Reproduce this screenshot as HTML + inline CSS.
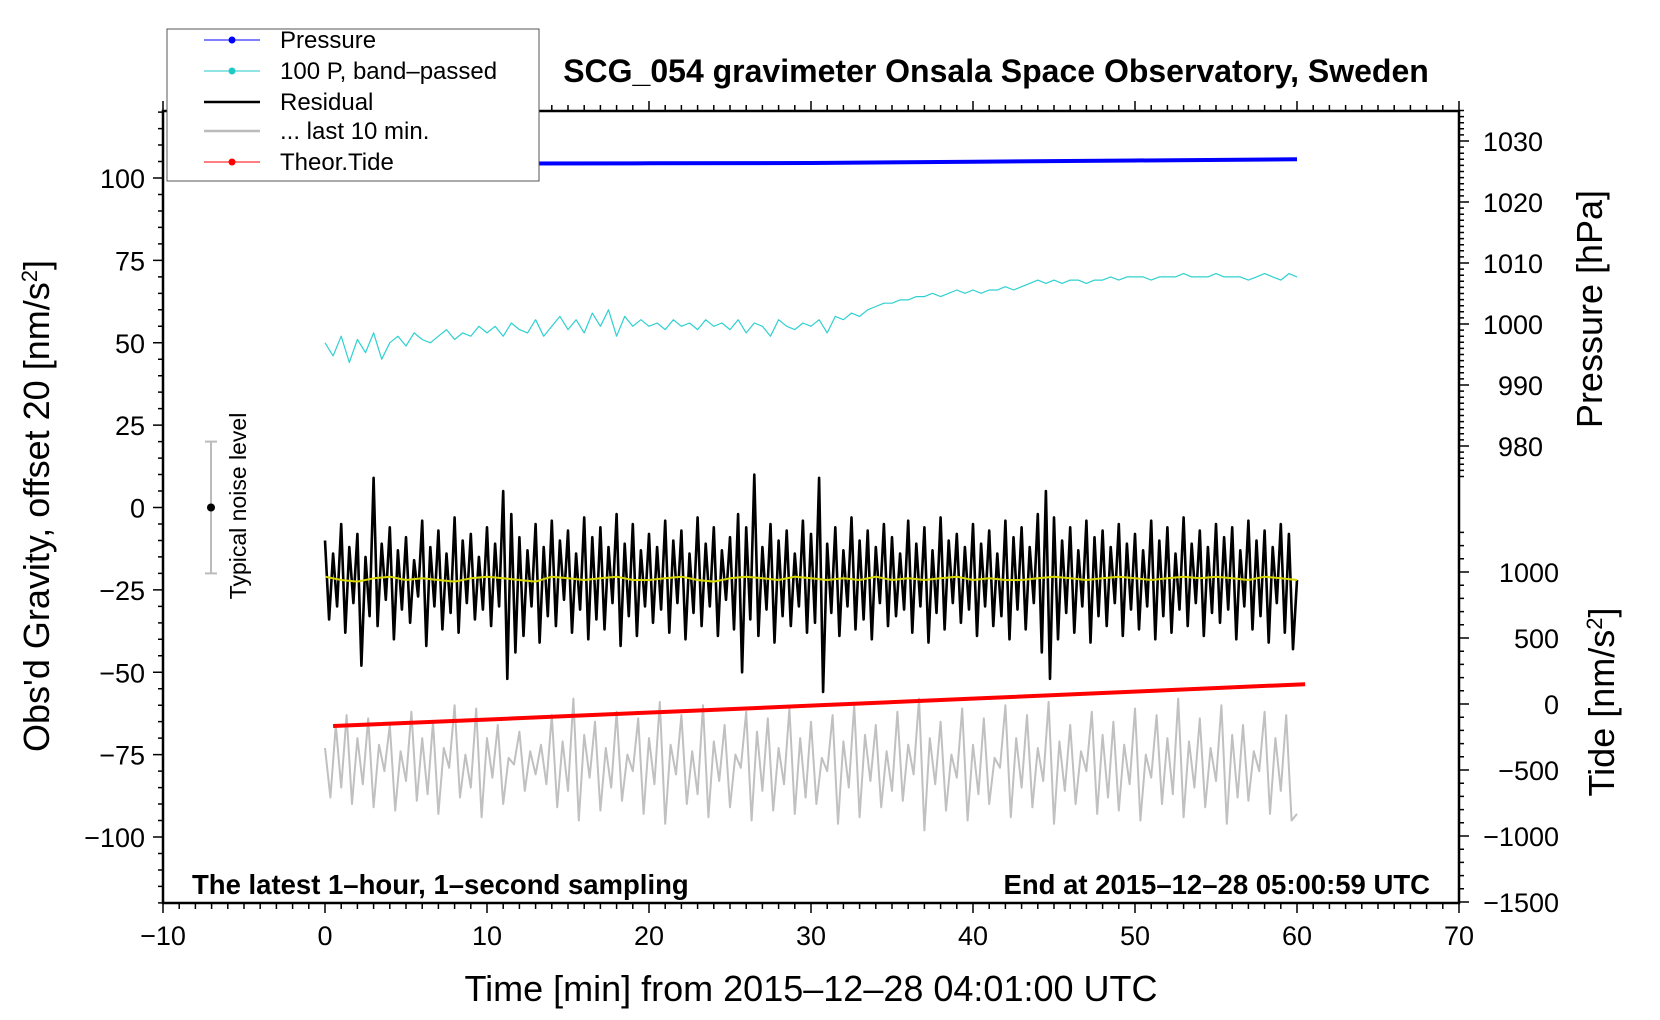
<!DOCTYPE html>
<html><head><meta charset="utf-8"><style>
html,body{margin:0;padding:0;background:#fff}
svg{display:block}
text{font-family:"Liberation Sans",sans-serif}
</style></head><body>
<svg id="c" width="1660" height="1020" viewBox="0 0 1660 1020" xmlns="http://www.w3.org/2000/svg">
<g id="marks"></g>
<g id="axes"></g>
<text x="996" y="82" font-size="32" font-weight="bold" text-anchor="middle">SCG_054 gravimeter Onsala Space Observatory, Sweden</text>
<text x="192" y="894" font-size="27.5" font-weight="bold">The latest 1–hour, 1–second sampling</text>
<text x="1430" y="894" font-size="27.5" font-weight="bold" text-anchor="end">End at 2015–12–28 05:00:59 UTC</text>
<text x="811" y="1001" font-size="36" text-anchor="middle">Time [min] from 2015–12–28 04:01:00 UTC</text>
<text transform="translate(49,506) rotate(-90)" font-size="36" text-anchor="middle">Obs'd Gravity, offset 20 [nm/s<tspan baseline-shift="super" font-size="22">2</tspan>]</text>
<text transform="translate(1602,309) rotate(-90)" font-size="36" text-anchor="middle">Pressure [hPa]</text>
<text transform="translate(1614,702) rotate(-90)" font-size="36" text-anchor="middle">Tide [nm/s<tspan baseline-shift="super" font-size="22">2</tspan>]</text>
<text transform="translate(246,506) rotate(-90)" font-size="23" text-anchor="middle">Typical noise level</text>
<g>
<rect x="167" y="29" width="372" height="152" fill="#fff" stroke="#555" stroke-width="1"/>
<line x1="204" y1="40" x2="260" y2="40" stroke="#0000ff" stroke-width="1"/><circle cx="232" cy="40" r="3.5" fill="#0000ff"/>
<text x="280" y="48" font-size="24">Pressure</text>
<line x1="204" y1="71" x2="260" y2="71" stroke="#20c8c8" stroke-width="1"/><circle cx="232" cy="71" r="3.5" fill="#20c8c8"/>
<text x="280" y="79" font-size="24">100 P, band–passed</text>
<line x1="204" y1="102" x2="260" y2="102" stroke="#000" stroke-width="2.5"/>
<text x="280" y="110" font-size="24">Residual</text>
<line x1="204" y1="131" x2="260" y2="131" stroke="#bbb" stroke-width="2.5"/>
<text x="280" y="139" font-size="24">... last 10 min.</text>
<line x1="204" y1="162" x2="260" y2="162" stroke="#ff0000" stroke-width="1"/><circle cx="232" cy="162" r="3.5" fill="#ff0000"/>
<text x="280" y="170" font-size="24">Theor.Tide</text>
</g>
</svg>
<script>
const pressTimes=[0,10,20,30,40,50,60];
const pressVals=[1026.3,1026.3,1026.35,1026.4,1026.6,1026.8,1027.0];
const bandVals=[50,46,52,44,51,47,53,45,50,52,49,53,51,50,52,54,51,53,52,55,
53,55,52,56,54,53,57,52,55,58,54,57,53,59,55,60,52,58,55,57,
55,56,54,57,55,56,54,57,55,56,54,57,53,56,55,52,57,55,54,56,
55,57,53,58,57,59,58,60,61,62,62,63,63,64,64,65,64,65,66,65,
66,65,66,66,67,66,67,68,69,68,69,68,69,69,68,69,69,70,69,70,
70,70,69,70,70,70,71,70,70,70,71,70,70,70,69,70,71,70,69,71,70];
const residVals=[-10,-34,-14,-30,-5,-38,-12,-29,-8,-48,-15,-33,9,-36,-11,-28,-6,-40,-13,-31,
-9,-35,-16,-27,-4,-42,-12,-30,-7,-37,-14,-32,-3,-38,-10,-29,-8,-34,-15,-31,
-6,-36,-11,-30,5,-52,-2,-44,-9,-39,-13,-30,-5,-41,-12,-33,-4,-36,-10,-28,
-7,-38,-14,-31,-3,-40,-9,-34,-6,-37,-12,-29,-2,-42,-11,-33,-5,-39,-13,-30,
-8,-35,-12,-31,-4,-38,-10,-29,-7,-40,-14,-32,-3,-36,-11,-30,-6,-39,-13,-28,
-9,-37,-2,-50,-6,-34,10,-39,-12,-31,-5,-41,-10,-33,-7,-36,-14,-30,-4,-38,
-8,-35,9,-56,-11,-32,-6,-39,-13,-30,-3,-37,-10,-34,-7,-40,-12,-29,-5,-36,
-9,-33,-14,-31,-4,-38,-11,-30,-6,-41,-13,-32,-3,-37,-10,-29,-8,-35,-12,-31,
-5,-39,-11,-30,-7,-36,-14,-33,-4,-40,-9,-31,-6,-37,-12,-29,-2,-44,5,-52,
-3,-40,-10,-32,-6,-38,-13,-30,-4,-41,-9,-33,-7,-36,-12,-29,-5,-39,-11,-31,
-8,-37,-13,-30,-4,-40,-10,-33,-6,-38,-14,-31,-3,-36,-11,-29,-7,-39,-12,-32,
-5,-35,-9,-31,-6,-40,-13,-30,-4,-37,-10,-33,-7,-41,-12,-29,-5,-38,-8,-43,-22];
const smoothVals=[-21,-22,-22.5,-21.5,-21,-22,-21.5,-22,-22.5,-21.5,-21,-21.5,-22,-22.5,-21,-21.5,-22,-21.5,-21,-22,
-22,-21.5,-21,-22,-22.5,-21.5,-21,-21.5,-22,-21,-21.5,-22,-21.5,-22,-21,-22,-21.5,-22,-21.5,-21,
-22,-21.5,-22,-22,-21.5,-21,-21.5,-22,-21.5,-21,-21.5,-22,-21.5,-21,-21.5,-21,-21.5,-22,-21,-21.5,-22];
const lastVals=[-73,-88,-66,-85,-63,-90,-70,-84,-64,-91,-72,-80,-66,-92,-74,-83,-62,-89,-70,-87,
-65,-93,-73,-79,-60,-88,-75,-85,-61,-94,-70,-82,-66,-90,-76,-78,-68,-86,-74,-81,
-72,-84,-63,-91,-71,-86,-58,-95,-69,-82,-65,-92,-73,-85,-62,-89,-75,-80,-64,-93,
-70,-84,-59,-96,-72,-81,-63,-90,-74,-87,-60,-94,-71,-83,-66,-91,-75,-79,-62,-95,
-68,-86,-64,-92,-73,-84,-61,-93,-70,-88,-65,-90,-76,-80,-63,-96,-71,-85,-60,-94,
-69,-83,-66,-91,-74,-86,-62,-89,-72,-81,-58,-98,-70,-84,-65,-92,-75,-82,-61,-95,
-72,-87,-64,-90,-76,-79,-60,-94,-70,-85,-63,-91,-73,-83,-59,-96,-71,-86,-66,-90,
-74,-80,-62,-93,-69,-88,-65,-92,-72,-84,-61,-95,-75,-82,-63,-90,-70,-87,-58,-94,
-71,-85,-64,-91,-73,-83,-60,-96,-69,-88,-66,-89,-74,-80,-62,-93,-70,-86,-63,-95,-93];
const tideTimes=[0.5,10.5,20.5,30.5,40.5,50.5,60.5];
const tideVals=[-167,-115,-62,-10,43,97,150];
const xTicks=[-10,0,10,20,30,40,50,60,70];
const yTicks=[-100,-75,-50,-25,0,25,50,75,100];
const pTicks=[980,990,1000,1010,1020,1030];
const tTicks=[-1500,-1000,-500,0,500,1000];

const NS='http://www.w3.org/2000/svg';
const X0=163,X1=1459,Y0=111,Y1=903;
const sx=t=>X0+(t+10)*(X1-X0)/80;
const sy=v=>507.5-v*3.295;
const sp=p=>141+(1030-p)*6.1;
const st=v=>704-v*0.132;
const marks=document.getElementById('marks');
const axes=document.getElementById('axes');
function mk(tag,attrs,parent){const e=document.createElementNS(NS,tag);for(const k in attrs)e.setAttribute(k,attrs[k]);parent.appendChild(e);return e;}
function poly(xs,ys,color,w,name){
  const pts=xs.map((x,i)=>x.toFixed(1)+','+ys[i].toFixed(1)).join(' ');
  const e=mk('polyline',{points:pts,fill:'none',stroke:color,'stroke-width':w,'stroke-linejoin':'round'},marks);
  
  
}
const step=(n,span)=>Array.from({length:n},(_,i)=>i*span/(n-1));
poly(step(lastVals.length,60).map(sx),lastVals.map(sy),'#c0c0c0',2,'last-10-min-series');
poly(step(residVals.length,60).map(sx),residVals.map(sy),'#000',2.6,'residual-series');
poly(step(smoothVals.length,60).map(sx),smoothVals.map(sy),'#d8d800',2,'residual-smoothed-series');
poly(step(bandVals.length,60).map(sx),bandVals.map(sy),'#30d0d0',1.2,'bandpassed-pressure-series');
poly(pressTimes.map(sx),pressVals.map(sp),'#0000ff',4,'pressure-series');
poly(tideTimes.map(sx),tideVals.map(st),'#ff0000',4,'tide-series');
const nb=mk('g',{},marks);


mk('line',{x1:211,y1:sy(20),x2:211,y2:sy(-20),stroke:'#bbb','stroke-width':2},nb);
mk('line',{x1:205,y1:sy(20),x2:217,y2:sy(20),stroke:'#bbb','stroke-width':2},nb);
mk('line',{x1:205,y1:sy(-20),x2:217,y2:sy(-20),stroke:'#bbb','stroke-width':2},nb);
mk('circle',{cx:211,cy:sy(0),r:4,fill:'#000'},nb);
const fr=mk('rect',{x:X0,y:Y0,width:X1-X0,height:Y1-Y0,fill:'none',stroke:'#000','stroke-width':2.5},axes);


let d='';
for(let t=-10;t<=70;t++){const x=sx(t),L=(t%10===0)?10:6;d+=`M${x},${Y1}v${L}M${x},${Y0}v${-L}`;}
for(let v=-120;v<=120;v+=5){const y=sy(v),L=(v%25===0)?10:5;d+=`M${X0},${y}h${-L}`;}
for(let p=975;p<=1035;p++){const y=sp(p),L=(p%10===0)?10:5;d+=`M${X1},${y}h${L}`;}
for(let v=-1500;v<=1300;v+=100){const y=st(v),L=(v%500===0)?10:5;d+=`M${X1},${y}h${L}`;}
const tk=mk('path',{d:d,stroke:'#000','stroke-width':1.5,fill:'none'},axes);


const m=s=>String(s).replace('-','\u2212');
xTicks.forEach(t=>{const e=mk('text',{x:sx(t),y:Y1+42,'font-size':27,'text-anchor':'middle'},axes);e.textContent=m(t);

});
yTicks.forEach(v=>{const e=mk('text',{x:X0-18,y:sy(v)+10,'font-size':27,'text-anchor':'end'},axes);e.textContent=m(v);

});
pTicks.forEach(p=>{const e=mk('text',{x:1543,y:sp(p)+10,'font-size':27,'text-anchor':'end'},axes);e.textContent=m(p);

});
tTicks.forEach(v=>{const e=mk('text',{x:1559,y:st(v)+10,'font-size':27,'text-anchor':'end'},axes);e.textContent=m(v);

});
</script>
</body></html>
